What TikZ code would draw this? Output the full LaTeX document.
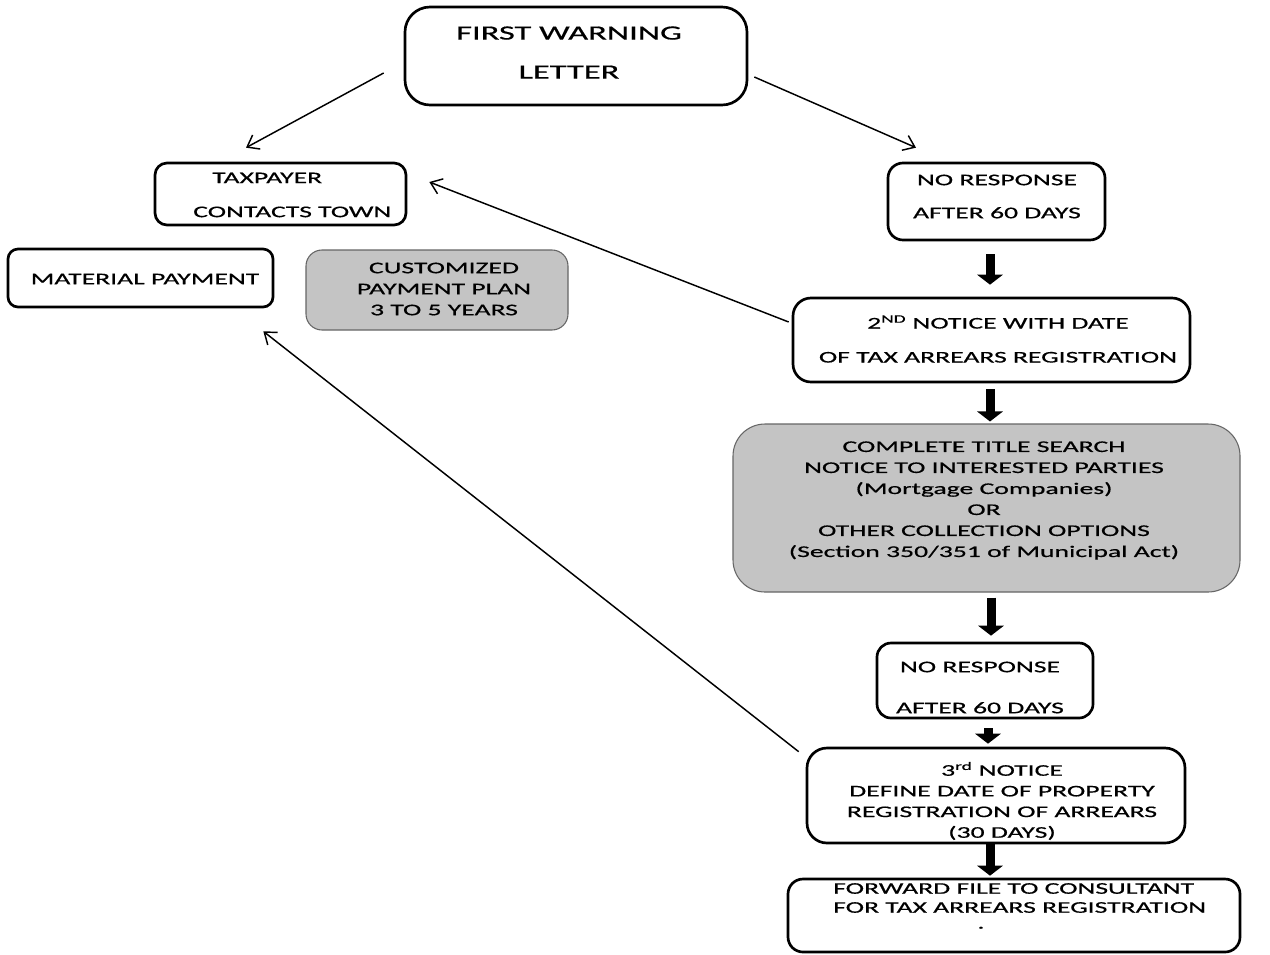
\documentclass[tikz,border=0pt]{standalone}
\usepackage{fontspec}
\usetikzlibrary{arrows.meta,calc}
\newfontfamily\wf{Carlito}[FakeStretch=1.7,FakeBold=0.6]
\tikzset{
  sz/.style 2 args={minimum width=#1*0.75pt, minimum height=#2*0.75pt, inner sep=0pt},
  rbox/.style={draw=black, line width=2pt, fill=white},
  gbox/.style={draw=black!60, line width=0.8pt, fill=black!23},
  txt/.style={font=\wf\fontsize{12.2}{#1}\selectfont, align=center, inner sep=0pt, text=black},
  txt/.default=25.5pt,
  thinarrow/.style={draw=black, line width=1.1pt, -{Straight Barb[length=8pt,width=12pt]}},
  blk/.style={draw=black, line width=6.75pt, -{Triangle[length=7.5pt,width=19pt]}}
}
\begin{document}
\begin{tikzpicture}[x=0.75pt,y=-0.75pt]
\useasboundingbox (0,0) rectangle (1270,954);
\fill[white] (0,0) rectangle (1270,954);

% boxes
\node[rbox, sz={342}{98}, rounded corners=18.75pt] (fw) at (576,56) {};
\node[rbox, sz={251}{62}, rounded corners=9pt] (tp) at (280.5,194) {};
\node[rbox, sz={265}{58}, rounded corners=7.5pt] (mp) at (140.5,278) {};
\node[gbox, sz={262}{80}, rounded corners=12pt] (cp) at (437,290) {};
\node[rbox, sz={217}{77}, rounded corners=11.25pt] (nr1) at (996.5,201.5) {};
\node[rbox, sz={397}{84}, rounded corners=13.5pt] (sec) at (991.5,340) {};
\node[gbox, sz={507}{168}, rounded corners=24pt] (cts) at (986.5,508) {};
\node[rbox, sz={216}{75}, rounded corners=10.5pt] (nr2) at (985,680.5) {};
\node[rbox, sz={378}{95}, rounded corners=15pt] (thd) at (996,795.5) {};
\node[rbox, sz={452}{73}, rounded corners=11.25pt] (fwd) at (1014,915.5) {};

% texts
\node[txt, font=\wf\fontsize{15.2}{29.25pt}\selectfont] (fw-t) at (569,52.5) {FIRST WARNING\\LETTER};
\node[txt, align=left, anchor=west] (tp-t) at (193,195) {\hspace*{14.25pt}TAXPAYER\\CONTACTS TOWN};
\node[txt] (mp-t) at (145,279) {MATERIAL PAYMENT};
\node[txt=15.75pt] (cp-t) at (444,289) {CUSTOMIZED\\PAYMENT PLAN\\3 TO 5 YEARS};
\node[txt=24.75pt] (nr1-t) at (997,196.5) {NO RESPONSE\\AFTER 60 DAYS};
\node[txt] (sec-t) at (998,339) {2\textsuperscript{ND} NOTICE WITH DATE\\OF TAX ARREARS REGISTRATION};
\node[txt=15.75pt] (cts-t) at (984,500.5) {COMPLETE TITLE SEARCH\\NOTICE TO INTERESTED PARTIES\\(Mortgage Companies)\\OR\\OTHER COLLECTION OPTIONS\\(Section 350/351 of Municipal Act)};
\node[txt=30.75pt] (nr2-t) at (980,687.5) {NO RESPONSE\\AFTER 60 DAYS};
\node[txt=15.5pt] (thd-t) at (1002,801) {3\textsuperscript{rd} NOTICE\\DEFINE DATE OF PROPERTY\\REGISTRATION OF ARREARS\\(30 DAYS)};
\node[txt=14.25pt, align=left, anchor=west] (fwd-t) at (833,898) {FORWARD FILE TO CONSULTANT\\FOR TAX ARREARS REGISTRATION};
\node[txt, anchor=south] (fwd-dot) at (981,929) {.};

% thin arrows
\draw[thinarrow] ($(fw.west)+(-20,17)$) -- ($(tp.north)+(-34.5,-14)$);
\draw[thinarrow] ($(fw.east)+(6,21)$) -- ($(nr1.north)+(-80.5,-14)$);
\draw[thinarrow] ($(sec.west)+(-3,-18)$) -- ($(tp.east)+(22,-12)$);
\draw[thinarrow] ($(thd.north west)+(-7,5)$) -- ($(mp.south east)+(-11,23)$);

% block arrows
\draw[blk, shorten <=9.75pt, shorten >=9pt] (990,0 |- nr1.south) -- (990,0 |- sec.north);
\draw[blk, shorten <=4.5pt, shorten >=1.5pt] (990,0 |- sec.south) -- (990,0 |- cts.north);
\draw[blk, shorten <=3.75pt, shorten >=4.5pt] (991,0 |- cts.south) -- (991,0 |- nr2.north);
\draw[blk, shorten <=6.75pt, shorten >=2.25pt] (988,0 |- nr2.south) -- (988,0 |- thd.north);
\draw[blk, shorten <=0pt, shorten >=1.5pt] (990,0 |- thd.south) -- (990,0 |- fwd.north);
\end{tikzpicture}
\end{document}
